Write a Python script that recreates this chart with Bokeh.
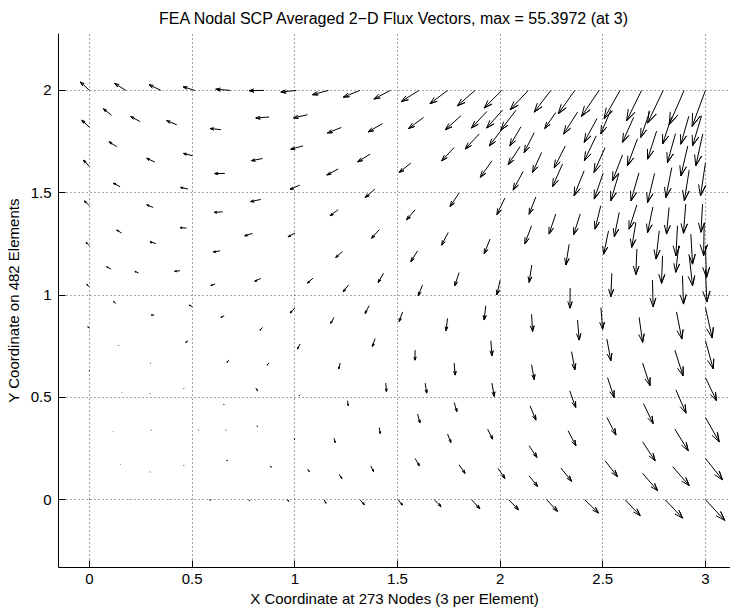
from bokeh.plotting import figure
from bokeh.models import Range1d, FixedTicker, NumeralTickFormatter
from bokeh.embed import file_html
from bokeh.resources import INLINE

# ---- data (node coordinates and drawn flux vectors, data units) ----
x_top = [0.000,0.177,0.347,0.513,0.685,0.850,1.008,1.164,1.317,1.466,1.605,1.744,1.878,2.008,2.137,2.247,2.364,2.482,2.584,2.689,2.794,2.896,3.000]
y_top = [2.0,2.0,2.0,2.0,2.0,2.0,2.0,2.0,2.0,2.0,2.0,2.0,2.0,2.0,2.0,2.0,2.0,2.0,2.0,2.0,2.0,2.0,2.0]
u_top = [-0.044,-0.054,-0.057,-0.057,-0.070,-0.073,-0.076,-0.078,-0.081,-0.081,-0.086,-0.086,-0.086,-0.086,-0.088,-0.081,-0.081,-0.086,-0.078,-0.073,-0.076,-0.073,-0.065]
v_top = [0.041,0.034,0.028,0.018,0.006,-0.001,-0.008,-0.021,-0.033,-0.042,-0.054,-0.065,-0.075,-0.086,-0.094,-0.106,-0.114,-0.127,-0.138,-0.148,-0.160,-0.168,-0.176]

x_r2 = [0.000,0.107,0.246,0.425,0.640,0.875,1.062,1.227,1.427,1.627,1.809,1.898,1.935,2.012,2.101,2.012,2.078]
y_r2 = [1.819,1.879,1.848,1.832,1.808,1.870,1.881,1.819,1.838,1.868,1.876,1.787,1.897,1.814,1.822,1.904,1.904]
u_r2 = [-0.037,-0.039,-0.045,-0.049,-0.052,-0.065,-0.068,-0.068,-0.070,-0.073,-0.076,-0.068,-0.075,-0.065,-0.054,-0.078,-0.075]
v_r2 = [0.036,0.031,0.024,0.020,0.006,-0.005,-0.015,-0.027,-0.041,-0.054,-0.068,-0.073,-0.081,-0.085,-0.093,-0.088,-0.098]

x_dense = [2.271,2.377,2.472,2.539,2.650,2.729,2.835,2.919,2.981,
           2.317,2.468,2.511,2.596,2.669,2.762,2.854,2.914,2.987,
           2.304,2.409,2.502,2.578,2.676,2.752,2.836,2.921,3.000,
           2.166,2.202,2.174]
y_dense = [1.892,1.894,1.863,1.904,1.868,1.897,1.870,1.874,1.876,
           1.728,1.778,1.721,1.685,1.764,1.801,1.789,1.729,1.788,
           1.641,1.607,1.596,1.593,1.597,1.594,1.623,1.612,1.646,
           1.794,1.697,1.480]
u_dense = [-0.054,-0.068,-0.063,-0.049,-0.054,-0.044,-0.044,-0.039,-0.044,
           -0.054,-0.058,-0.054,-0.049,-0.049,-0.044,-0.039,-0.034,-0.034,
           -0.049,-0.049,-0.044,-0.039,-0.039,-0.034,-0.029,-0.024,-0.024,
           -0.049,-0.044,-0.033]
v_dense = [-0.078,-0.107,-0.117,-0.117,-0.122,-0.127,-0.132,-0.137,-0.147,
           -0.107,-0.122,-0.122,-0.127,-0.132,-0.137,-0.142,-0.147,-0.156,
           -0.112,-0.122,-0.127,-0.132,-0.137,-0.142,-0.147,-0.151,-0.161,
           -0.098,-0.098,-0.085]

x_r4 = [2.153,2.271,2.390,2.490,2.580,2.661,2.528,2.775,2.864,2.929,2.921,2.823,2.904,2.986,2.994,2.666,2.791,2.870,2.666,2.744,3.000,2.336]
y_r4 = [1.339,1.396,1.396,1.436,1.404,1.355,1.314,1.314,1.339,1.298,1.192,1.428,1.445,1.445,1.355,1.225,1.192,1.241,1.441,1.431,1.241,1.248]
u_r4 = [-0.033,-0.033,-0.032,-0.028,-0.024,-0.020,-0.024,-0.016,-0.008,0.008,0.016,-0.013,-0.011,-0.008,-0.003,-0.005,-0.005,-0.015,-0.038,-0.026,0.005,-0.016]
v_r4 = [-0.089,-0.098,-0.101,-0.114,-0.119,-0.122,-0.114,-0.138,-0.147,-0.147,-0.147,-0.130,-0.143,-0.138,-0.162,-0.125,-0.135,-0.130,-0.119,-0.126,-0.156,-0.101]

x_r5 = [1.024,1.211,1.390,1.586,1.800,2.023,2.112,1.960,1.565,1.211,1.040,1.367,1.776,2.097,0.000,0.310,0.648,0.834,0.149,0.480,0.000,0.133,0.318,0.502,0.659,0.843]
y_r5 = [1.537,1.417,1.518,1.417,1.498,1.474,1.604,1.656,1.645,1.616,1.729,1.689,1.721,1.725,1.436,1.428,1.407,1.467,1.529,1.518,1.628,1.725,1.650,1.681,1.594,1.667]
u_r5 = [-0.047,-0.039,-0.047,-0.042,-0.044,-0.039,-0.049,-0.057,-0.057,-0.055,-0.060,-0.061,-0.061,-0.058,-0.024,-0.031,-0.041,-0.049,-0.032,-0.036,-0.029,-0.038,-0.039,-0.044,-0.049,-0.054]
v_r5 = [-0.020,-0.029,-0.041,-0.049,-0.065,-0.081,-0.091,-0.081,-0.046,-0.029,-0.016,-0.038,-0.065,-0.088,0.024,0.013,-0.003,-0.010,0.018,0.008,0.031,0.024,0.018,0.011,0.000,-0.010]

x_r6 = [1.001,1.232,1.411,1.598,1.747,1.951,0.794,0.636,0.323,0.472,0.156]
y_r6 = [1.303,1.213,1.319,1.216,1.306,1.274,1.301,1.216,1.252,1.327,1.303]
u_r6 = [-0.034,-0.033,-0.037,-0.033,-0.032,-0.029,-0.038,-0.032,-0.028,-0.031,-0.023]
v_r6 = [-0.018,-0.029,-0.041,-0.052,-0.062,-0.073,-0.011,-0.005,0.008,0.003,0.015]

x_r7 = [1.089,1.262,1.432,1.622,1.800,2.000,2.154,2.544,2.742,2.888,3.000,0.834,0.612,0.441,0.239,0.104,0.000]
y_r7 = [1.083,1.050,1.107,1.049,1.110,1.073,1.147,1.106,1.073,1.094,1.127,1.081,1.054,1.119,1.108,1.127,1.241]
u_r7 = [-0.027,-0.026,-0.026,-0.021,-0.021,-0.016,-0.013,-0.005,0.003,0.005,0.007,-0.029,-0.021,-0.026,-0.018,-0.020,-0.016]
v_r7 = [-0.024,-0.033,-0.046,-0.052,-0.065,-0.072,-0.085,-0.114,-0.130,-0.138,-0.161,-0.013,-0.007,-0.003,0.008,0.011,0.016]

x_r8 = [1.000,1.191,1.362,1.525,1.744,1.930,2.153,2.341,2.377,2.491,2.677,2.859,3.000,0.843,0.656,0.315,0.502,0.128,0.000]
y_r8 = [0.937,0.891,0.948,0.918,0.886,0.948,0.907,1.034,0.878,0.939,0.891,0.918,0.939,0.842,0.899,0.902,0.943,0.959,1.041]
u_r8 = [-0.023,-0.016,-0.020,-0.017,-0.008,-0.008,0.005,-0.001,0.008,0.008,0.017,0.026,0.033,-0.013,-0.016,-0.013,-0.017,-0.011,-0.013]
v_r8 = [-0.024,-0.029,-0.038,-0.047,-0.060,-0.070,-0.085,-0.098,-0.098,-0.106,-0.122,-0.133,-0.149,-0.013,-0.008,0.001,0.008,0.010,0.010]

x_r9 = [1.026,1.221,1.391,1.586,1.776,1.955,2.153,2.348,2.520,2.694,2.851,3.000,0.680,0.875,0.480,0.299,0.144,0.000]
y_r9 = [0.761,0.668,0.788,0.731,0.668,0.777,0.660,0.724,0.785,0.668,0.731,0.777,0.682,0.668,0.777,0.668,0.752,0.837]
u_r9 = [-0.013,-0.008,-0.013,-0.001,0.005,0.005,0.013,0.016,0.019,0.036,0.040,0.038,-0.011,-0.010,-0.011,-0.002,-0.002,-0.008]
v_r9 = [-0.024,-0.029,-0.039,-0.049,-0.059,-0.073,-0.073,-0.089,-0.106,-0.111,-0.126,-0.138,-0.010,-0.010,-0.008,-0.001,0.002,0.008]

x_r10 = [1.024,1.257,1.443,1.635,1.776,1.960,2.146,2.339,2.523,2.698,2.856,3.000,0.810,0.653,0.458,0.295,0.157,0.000]
y_r10 = [0.513,0.484,0.570,0.570,0.475,0.570,0.459,0.532,0.597,0.470,0.537,0.597,0.546,0.468,0.546,0.521,0.524,0.634]
u_r10 = [-0.002,0.003,0.003,0.007,0.013,0.011,0.028,0.029,0.032,0.047,0.049,0.054,0.008,0.002,0.001,0.001,0.001,-0.002]
v_r10 = [-0.004,-0.024,-0.041,-0.049,-0.044,-0.065,-0.070,-0.081,-0.098,-0.098,-0.114,-0.114,-0.013,-0.003,-0.002,-0.002,-0.001,-0.003]

x_r11 = [0.997,1.191,1.411,1.598,1.744,1.939,2.141,2.331,2.520,2.694,2.851,3.000,0.115,0.299,0.529,0.664,0.815]
y_r11 = [0.301,0.301,0.353,0.419,0.321,0.345,0.264,0.337,0.402,0.283,0.345,0.402,0.334,0.342,0.342,0.342,0.362]
u_r11 = [0.002,0.005,0.005,0.011,0.016,0.024,0.038,0.038,0.044,0.061,0.065,0.067,0.001,0.001,0.002,0.002,0.003]
v_r11 = [-0.007,-0.021,-0.029,-0.044,-0.041,-0.049,-0.057,-0.073,-0.086,-0.093,-0.106,-0.119,-0.001,-0.002,-0.002,-0.002,-0.005]

x_r12 = [1.062,1.216,1.370,1.586,1.800,1.990,2.141,2.296,2.511,2.694,2.840,3.000,0.149,0.295,0.458,0.669,0.880]
y_r12 = [0.150,0.125,0.166,0.202,0.171,0.153,0.117,0.155,0.191,0.129,0.162,0.202,0.174,0.137,0.170,0.195,0.166]
u_r12 = [0.008,0.013,0.013,0.020,0.029,0.033,0.041,0.052,0.060,0.073,0.081,0.083,0.001,0.001,0.001,0.002,0.005]
v_r12 = [-0.012,-0.021,-0.028,-0.036,-0.042,-0.049,-0.052,-0.065,-0.078,-0.085,-0.093,-0.105,-0.001,-0.002,-0.002,-0.005,-0.007]

x_bot = [0.000,0.194,0.389,0.583,0.774,0.961,1.143,1.318,1.503,1.679,1.861,2.042,2.227,2.412,2.609,2.804,3.000]
y_bot = [0.0,0.0,0.0,0.0,0.0,0.0,0.0,0.0,0.0,0.0,0.0,0.0,0.0,0.0,0.0,0.0,0.0]
u_bot = [0.001,0.001,0.001,0.005,0.005,0.010,0.008,0.020,0.021,0.033,0.040,0.047,0.052,0.067,0.073,0.085,0.094]
v_bot = [-0.001,-0.001,-0.001,-0.002,-0.005,-0.007,-0.017,-0.024,-0.026,-0.033,-0.044,-0.049,-0.057,-0.065,-0.078,-0.090,-0.101]

x_ticks = [0, 0.5, 1, 1.5, 2, 2.5, 3]
y_ticks = [0, 0.5, 1, 1.5, 2]

title_text = "FEA Nodal SCP Averaged 2\u2212D Flux Vectors, max = 55.3972 (at 3)"
x_label = "X Coordinate at 273 Nodes (3 per Element)"
y_label = "Y Coordinate on 482 Elements"

X = x_top + x_r2 + x_dense + x_r4 + x_r5 + x_r6 + x_r7 + x_r8 + x_r9 + x_r10 + x_r11 + x_r12 + x_bot
Y = y_top + y_r2 + y_dense + y_r4 + y_r5 + y_r6 + y_r7 + y_r8 + y_r9 + y_r10 + y_r11 + y_r12 + y_bot
U = u_top + u_r2 + u_dense + u_r4 + u_r5 + u_r6 + u_r7 + u_r8 + u_r9 + u_r10 + u_r11 + u_r12 + u_bot
V = v_top + v_r2 + v_dense + v_r4 + v_r5 + v_r6 + v_r7 + v_r8 + v_r9 + v_r10 + v_r11 + v_r12 + v_bot

# quiver-style arrow geometry (head relative to vector length)
alpha, beta = 0.33, 0.33
xs, ys = [], []
for x, y, u, v in zip(X, Y, U, V):
    tx, ty = x + u, y + v
    hlx = tx - alpha * (u + beta * v)
    hly = ty - alpha * (v - beta * u)
    hrx = tx - alpha * (u - beta * v)
    hry = ty - alpha * (v + beta * u)
    xs.append([x, tx, hlx, tx, hrx])
    ys.append([y, ty, hly, ty, hry])

FONT = "Liberation Sans"

p = figure(width=730, height=610,
           x_range=Range1d(-0.151, 3.122), y_range=Range1d(-0.331, 2.278),
           output_backend="svg", toolbar_location=None,
           min_border_left=58, min_border_right=0, min_border_top=33, min_border_bottom=43,
           title=title_text)
p.outline_line_color = None
p.background_fill_color = "white"
p.border_fill_color = "white"

p.title.text_font = FONT
p.title.text_font_size = "16px"
p.title.text_font_style = "normal"
p.title.align = "center"
p.title.offset = 4
p.title.standoff = 13
p.title.text_color = "black"

p.multi_line(xs, ys, line_color="black", line_width=1)

for ax, ticks in ((p.xaxis, x_ticks), (p.yaxis, y_ticks)):
    ax.ticker = FixedTicker(ticks=ticks)
    ax.formatter = NumeralTickFormatter(format="0.[0]")
    ax.major_tick_in = 7
    ax.major_tick_out = 0
    ax.minor_tick_line_color = None
    ax.axis_line_color = "black"
    ax.major_tick_line_color = "black"
    ax.major_label_text_font = FONT
    ax.major_label_text_font_size = "15px"
    ax.major_label_text_color = "black"
    ax.axis_label_text_font = FONT
    ax.axis_label_text_font_size = "15px"
    ax.axis_label_text_font_style = "normal"
    ax.axis_label_text_color = "black"

p.xaxis.axis_label = x_label
p.yaxis.axis_label = y_label
p.xaxis.major_label_standoff = 6
p.xaxis.axis_label_standoff = 3
p.yaxis.major_label_standoff = 7
p.yaxis.axis_label_standoff = 6

p.xgrid.ticker = FixedTicker(ticks=x_ticks)
p.ygrid.ticker = FixedTicker(ticks=y_ticks)
for g in (p.xgrid, p.ygrid):
    g.grid_line_color = "#222222"
    g.grid_line_dash = "1 3"
    g.grid_line_width = 1
    g.grid_line_alpha = 0.8

open("out.html", "w").write(file_html(p, INLINE))
